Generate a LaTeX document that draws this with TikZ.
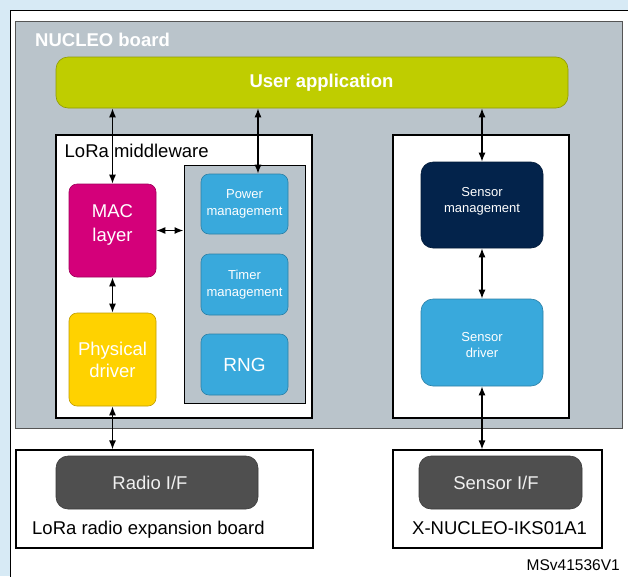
\documentclass[tikz,border=0pt]{standalone}
\usepackage{fontspec}
\setmainfont{Liberation Sans}
\usetikzlibrary{arrows.meta}
\definecolor{bgblue}{HTML}{D7EAF5}
\definecolor{stgray}{HTML}{BAC4CB}
\definecolor{graybd}{HTML}{555555}
\definecolor{stlime}{HTML}{BFCD00}
\definecolor{stmag}{HTML}{D4007A}
\definecolor{styel}{HTML}{FFD200}
\definecolor{stblue}{HTML}{39A9DC}
\definecolor{stnavy}{HTML}{03234B}
\definecolor{stdgray}{HTML}{4F4F4F}
\begin{document}
\begin{tikzpicture}[x=1pt,y=-1pt,
  frame/.style={draw=black, fill=white, line width=1.1pt, inner sep=0pt},
  blk/.style={draw=#1!75!black, fill=#1, line width=0.6pt, inner sep=0pt},
  lbl/.style={text=white, align=center, inner sep=0pt, font=\fontsize{18.5}{24}\selectfont},
  sml/.style={text=white, align=center, inner sep=0pt, font=\fontsize{13}{17.5}\selectfont},
  plain/.style={inner sep=0pt, font=\fontsize{18.5}{22}\selectfont},
  arr/.style={{Latex[length=9pt,width=7pt]}-{Latex[length=9pt,width=7pt]}, line width=1.3pt}]
\useasboundingbox (0,0) rectangle (628,576);
\fill[bgblue] (0,0) rectangle (628,576);
\filldraw[fill=white, draw=black, line width=0.9pt] (10,10.5) rectangle (660,600);

% NUCLEO board
\node[draw=graybd, fill=stgray, line width=0.8pt, minimum width=607pt, minimum height=407pt, inner sep=0pt] (nucleo) at (318.5,224.5) {};
\node[anchor=base west, text=white, inner sep=0pt, font=\bfseries\fontsize{18.5}{22}\selectfont] (nucleolbl) at (35,46) {NUCLEO board};

\node[blk=stlime, rounded corners=12pt, minimum width=512pt, minimum height=51pt,
  label={[lbl, font=\bfseries\fontsize{18.5}{22}\selectfont, xshift=9.5pt]center:User application}] (app) at (312,82.5) {};

% LoRa middleware
\node[frame, minimum width=256pt, minimum height=283pt] (mw) at (184,276.5) {};
\node[plain, anchor=base west] (mwlbl) at (64.5,157.5) {LoRa middleware};
\node[draw=black, fill=stgray, line width=1pt, minimum width=121pt, minimum height=238pt, inner sep=0pt] (svc) at (244.5,284) {};
\node[blk=stblue, rounded corners=8pt, minimum width=87pt, minimum height=60pt,
  label={[sml]center:{Power\\management}}] (pwr) at (244.5,204) {};
\node[blk=stblue, rounded corners=8pt, minimum width=87pt, minimum height=61pt,
  label={[sml]center:{Timer\\management}}] (tmr) at (244.5,284.5) {};
\node[blk=stblue, rounded corners=8pt, minimum width=87pt, minimum height=61pt,
  label={[lbl, font=\fontsize{19}{22}\selectfont]center:RNG}] (rng) at (244.5,364.5) {};
\node[blk=stmag, rounded corners=8pt, minimum width=87pt, minimum height=93pt,
  label={[lbl, yshift=5.5pt]center:{MAC\\layer}}] (mac) at (112.5,230.5) {};
\node[blk=styel, rounded corners=8pt, minimum width=87pt, minimum height=93pt,
  label={[lbl, font=\fontsize{18.5}{22}\selectfont]center:{Physical\\driver}}] (phy) at (112.5,359.5) {};

% Sensor side
\node[frame, minimum width=176pt, minimum height=283pt] (sens) at (481,276.5) {};
\node[blk=stnavy, rounded corners=12pt, minimum width=122pt, minimum height=86pt,
  label={[sml, font=\fontsize{13}{16.5}\selectfont, yshift=3.5pt]center:{Sensor\\management}}] (smg) at (482,205) {};
\node[blk=stblue, rounded corners=12pt, minimum width=122pt, minimum height=87pt,
  label={[sml, font=\fontsize{13}{16.5}\selectfont, yshift=-2.5pt]center:{Sensor\\driver}}] (sdrv) at (482,342.5) {};

% Bottom boards
\node[frame, minimum width=297pt, minimum height=98pt] (radio) at (164.5,499) {};
\node[blk=stdgray, rounded corners=12pt, minimum width=202pt, minimum height=53pt,
  label={[lbl, text=white!94!black, xshift=-7pt]center:Radio I/F}] (rif) at (157,482.5) {};
\node[plain, anchor=base west] (radiolbl) at (32,534) {LoRa radio expansion board};

\node[frame, minimum width=209pt, minimum height=98pt] (xnuc) at (497.5,499) {};
\node[blk=stdgray, rounded corners=12pt, minimum width=163pt, minimum height=53pt,
  label={[lbl, text=white!94!black, xshift=-4.5pt]center:Sensor I/F}] (sif) at (500.5,482.5) {};
\node[plain, anchor=base west] (xnuclbl) at (412,534.5) {X-NUCLEO-IKS01A1};

\node[anchor=base east, inner sep=0pt, font=\fontsize{15.5}{18}\selectfont] (msv) at (620,570.5) {MSv41536V1};

% Connectors
\coordinate (pwrtop) at ([xshift=13.5pt]pwr.north);
\draw[arr] (app.south -| mac.north) -- (mac.north);
\draw[arr] (pwrtop |- app.south) -- (pwrtop);
\draw[arr] (app.south -| smg.north) -- (smg.north);
\draw[arr] (mac.east) -- (mac.east -| svc.west);
\draw[arr] (mac.south) -- (phy.north);
\draw[arr] (phy.south) -- (phy.south |- radio.north);
\draw[arr] (smg.south) -- (sdrv.north);
\draw[arr] (sdrv.south) -- (sdrv.south |- xnuc.north);
\end{tikzpicture}
\end{document}
